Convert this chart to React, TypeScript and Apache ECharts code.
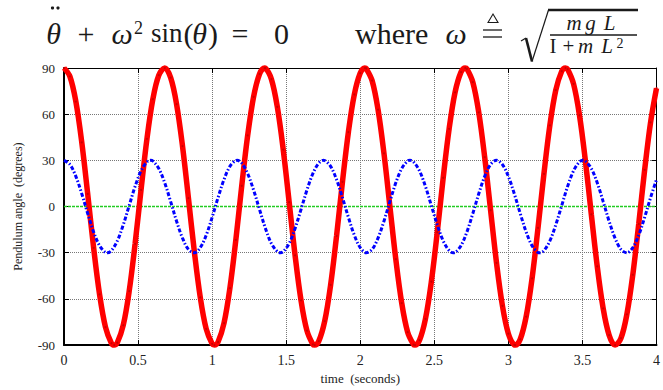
import React, { useEffect, useRef } from "react";
import * as echarts from "echarts";

const times = [
  0, 0.04, 0.08, 0.12, 0.16, 0.2, 0.24, 0.28, 0.32, 0.36, 0.4, 0.44, 0.48, 0.52, 0.56, 0.6, 0.64, 0.68, 0.72, 0.76, 0.8, 0.84, 0.88, 0.92, 0.96,
  1, 1.04, 1.08, 1.12, 1.16, 1.2, 1.24, 1.28, 1.32, 1.36, 1.4, 1.44, 1.48, 1.52, 1.56, 1.6, 1.64, 1.68, 1.72, 1.76, 1.8, 1.84, 1.88, 1.92, 1.96,
  2, 2.04, 2.08, 2.12, 2.16, 2.2, 2.24, 2.28, 2.32, 2.36, 2.4, 2.44, 2.48, 2.52, 2.56, 2.6, 2.64, 2.68, 2.72, 2.76, 2.8, 2.84, 2.88, 2.92, 2.96,
  3, 3.04, 3.08, 3.12, 3.16, 3.2, 3.24, 3.28, 3.32, 3.36, 3.4, 3.44, 3.48, 3.52, 3.56, 3.6, 3.64, 3.68, 3.72, 3.76, 3.8, 3.84, 3.88, 3.92, 3.96,
  4,
];

const angle90 = [
  90.0, 84.5, 68.2, 41.7, 8.2, -26.8, -57.0, -78.3, -88.8, -88.4,
  -77.1, -55.0, -24.2, 10.8, 44.0, 69.8, 85.3, 90.0, 83.7, 66.5,
  39.3, 5.5, -29.3, -59.0, -79.5, -89.2, -88.0, -75.8, -53.0, -21.7,
  13.5, 46.2, 71.3, 86.1, 89.9, 82.8, 64.8, 37.0, 2.9, -31.7,
  -60.9, -80.6, -89.5, -87.4, -74.4, -50.9, -19.1, 16.1, 48.4, 72.8,
  86.7, 89.7, 81.8, 63.0, 34.6, 0.2, -34.2, -62.7, -81.6, -89.7,
  -86.8, -73.0, -48.8, -16.6, 18.7, 50.5, 74.2, 87.3, 89.5, 80.8,
  61.2, 32.1, -2.4, -36.6, -64.5, -82.6, -89.9, -86.2, -71.5, -46.6,
  -13.9, 21.2, 52.7, 75.6, 87.9, 89.2, 79.7, 59.3, 29.7, -5.1,
  -38.9, -66.2, -83.5, -90.0, -85.5, -70.0, -44.3, -11.3, 23.8, 54.7,
  76.9,
];

// turning points of the 90° swing
const turns90Times = [0.3385, 0.677, 1.0155, 1.354, 1.6925, 2.031, 2.3695, 2.708, 3.0465, 3.385, 3.7235];
const turns90Values = [-90, 90, -90, 90, -90, 90, -90, 90, -90, 90, -90];

const angle30 = [
  30.0, 27.3, 19.6, 8.3, -4.5, -16.5, -25.4, -29.8, -28.6, -22.3,
  -11.9, 0.6, 13.1, 23.2, 29.0, 29.6, 24.7, 15.4, 3.2, -9.5,
  -20.5, -27.8, -30.0, -26.7, -18.6, -7.0, 5.8, 17.5, 26.1, 29.9,
  28.2, 21.4, 10.7, -1.9, -14.2, -24.0, -29.3, -29.3, -24.0, -14.2,
  -1.9, 10.7, 21.4, 28.2, 29.9, 26.1, 17.5, 5.8, -7.0, -18.6,
  -26.7, -30.0, -27.8, -20.5, -9.5, 3.2, 15.4, 24.7, 29.6, 29.0,
  23.2, 13.1, 0.6, -11.9, -22.3, -28.6, -29.8, -25.4, -16.5, -4.5,
  8.3, 19.6, 27.3, 30.0, 27.3, 19.6, 8.3, -4.5, -16.5, -25.4,
  -29.8, -28.6, -22.3, -11.9, 0.6, 13.1, 23.2, 29.0, 29.6, 24.7,
  15.4, 3.2, -9.5, -20.5, -27.8, -30.0, -26.7, -18.6, -7.0, 5.8,
  17.5,
];

// turning points of the 30° swing
const turns30Times = [0.292, 0.584, 0.876, 1.168, 1.46, 1.752, 2.044, 2.336, 2.628, 3.212, 3.504, 3.796];
const turns30Values = [-30, 30, -30, 30, -30, 30, -30, 30, -30, -30, 30, -30];

const restTimes = [0, 4];
const restAngle = [0, 0];

const xTicks = { min: 0, max: 4, interval: 0.5 };
const yTicks = { min: -90, max: 90, interval: 30 };

const xName = "time  (seconds)";
const yName = "Pendulum angle  (degrees)";

const FONT = "Liberation Serif";
const INK = "#1a1a1a";

function merge(ts: number[], vs: number[], extraT: number[], extraV: number[]) {
  const pts: number[][] = ts.map((t, i) => [t, vs[i]]);
  extraT.forEach((t, i) => {
    if (!ts.some((u) => Math.abs(u - t) < 0.006)) pts.push([t, extraV[i]]);
  });
  pts.sort((a, b) => a[0] - b[0]);
  return pts;
}

function txt(text: string, x: number, y: number, size: number, italic = false, align = "center") {
  return {
    type: "text",
    x,
    y,
    silent: true,
    style: {
      text,
      fontSize: size,
      fontFamily: FONT,
      fontStyle: italic ? "italic" : "normal",
      fill: INK,
      align,
      verticalAlign: "middle",
    },
  };
}

function seg(x1: number, y1: number, x2: number, y2: number, w: number) {
  return {
    type: "line",
    silent: true,
    shape: { x1, y1, x2, y2 },
    style: { stroke: INK, lineWidth: w },
  };
}

export default function App() {
  const ref = useRef<HTMLDivElement>(null);

  useEffect(() => {
    if (!ref.current) return;
    const chart = echarts.init(ref.current, null, { renderer: "svg" });

    const title = [
      txt("θ", 53.5, 33, 30, true),
      { type: "circle", silent: true, shape: { cx: 52.5, cy: 8, r: 1.6 }, style: { fill: INK } },
      { type: "circle", silent: true, shape: { cx: 58, cy: 8, r: 1.6 }, style: { fill: INK } },
      txt("+", 86, 33, 30),
      txt("ω", 122, 33, 30, true),
      txt("2", 138.5, 28, 18),
      txt("sin", 151, 33, 27, false, "left"),
      txt("(", 188.5, 33, 30),
      txt("θ", 199.5, 33, 30, true),
      txt(")", 213, 33, 30),
      txt("=", 240, 33, 30),
      txt("0", 281.5, 33, 30),
      txt("where", 355, 33, 30, false, "left"),
      txt("ω", 456, 33, 30, true),
      {
        type: "polygon",
        silent: true,
        shape: { points: [[488, 22.5], [493, 14], [498, 22.5]] },
        style: { stroke: INK, lineWidth: 1.1, fill: "none" },
      },
      seg(483, 30, 502, 30, 1.3),
      seg(483, 37, 502, 37, 1.3),
      seg(521, 41, 526, 38, 1.2),
      seg(526, 38, 532, 61.5, 2.6),
      seg(532, 61.5, 548.5, 10, 1.2),
      seg(548, 10, 638, 10, 2.4),
      txt("m", 574, 23, 21, true),
      txt("g", 590.5, 23, 21, true),
      txt("L", 609.5, 23, 21, true),
      seg(550, 35, 637, 35, 1.5),
      txt("I", 553, 46, 21),
      txt("+", 568.5, 46, 21),
      txt("m", 585.5, 46, 21, true),
      txt("L", 607, 46, 21, true),
      txt("2", 620, 43, 14),
    ];

    const labelStyle = { fontFamily: FONT, fontSize: 14, color: "#222" };
    const gridLine = { show: true, lineStyle: { color: "#777", type: "dotted", width: 1 } };

    chart.setOption({
      animation: false,
      backgroundColor: "#fff",
      textStyle: { fontFamily: FONT },
      grid: { left: 64, right: 5, top: 68, bottom: 39, containLabel: false },
      graphic: title,
      xAxis: [
        {
          type: "value",
          position: "bottom",
          ...xTicks,
          axisLine: { show: true, onZero: false, lineStyle: { color: "#000", width: 2 } },
          axisTick: { show: true, inside: true, length: 5, lineStyle: { color: "#000", width: 1 } },
          axisLabel: { ...labelStyle, margin: 8 },
          splitLine: gridLine,
          name: xName,
          nameLocation: "middle",
          nameGap: 25,
          nameTextStyle: { fontFamily: FONT, fontSize: 13, color: "#222" },
        },
        {
          type: "value",
          position: "top",
          ...xTicks,
          axisLine: { show: true, onZero: false, lineStyle: { color: "#000", width: 1 } },
          axisTick: { show: true, inside: true, length: 5, lineStyle: { color: "#000", width: 1 } },
          axisLabel: { show: false },
          splitLine: { show: false },
        },
      ],
      yAxis: [
        {
          type: "value",
          position: "left",
          ...yTicks,
          axisLine: { show: true, onZero: false, lineStyle: { color: "#000", width: 2 } },
          axisTick: { show: true, inside: true, length: 5, lineStyle: { color: "#000", width: 1 } },
          axisLabel: { ...labelStyle, fontSize: 13, margin: 9 },
          splitLine: gridLine,
          name: yName,
          nameLocation: "middle",
          nameGap: 40,
          nameTextStyle: { fontFamily: FONT, fontSize: 12, color: "#222" },
        },
        {
          type: "value",
          position: "right",
          ...yTicks,
          axisLine: { show: true, onZero: false, lineStyle: { color: "#000", width: 1 } },
          axisTick: { show: true, inside: true, length: 5, lineStyle: { color: "#000", width: 1 } },
          axisLabel: { show: false },
          splitLine: { show: false },
        },
      ],
      series: [
        {
          type: "line",
          name: "rest",
          data: restTimes.map((t, i) => [t, restAngle[i]]),
          showSymbol: false,
          lineStyle: { color: "#22cc22", width: 1.6, type: [3, 1] },
          z: 2,
        },
        {
          type: "line",
          name: "90 deg",
          data: merge(times, angle90, turns90Times, turns90Values),
          smooth: 0.35,
          clip: false,
          symbol: "circle",
          symbolSize: 2,
          itemStyle: { color: "#c80000" },
          lineStyle: { color: "#ff0000", width: 5.5 },
          z: 3,
        },
        {
          type: "line",
          name: "30 deg",
          data: merge(times, angle30, turns30Times, turns30Values),
          smooth: 0.35,
          showSymbol: false,
          lineStyle: { color: "#0000ff", width: 3, type: [4, 2, 1.5, 2] },
          z: 4,
        },
      ],
    });

    return () => chart.dispose();
  }, []);

  return (
    <div
      ref={ref}
      style={{ position: "absolute", left: 0, top: 0, width: 663, height: 390, background: "#fff" }}
    />
  );
}
